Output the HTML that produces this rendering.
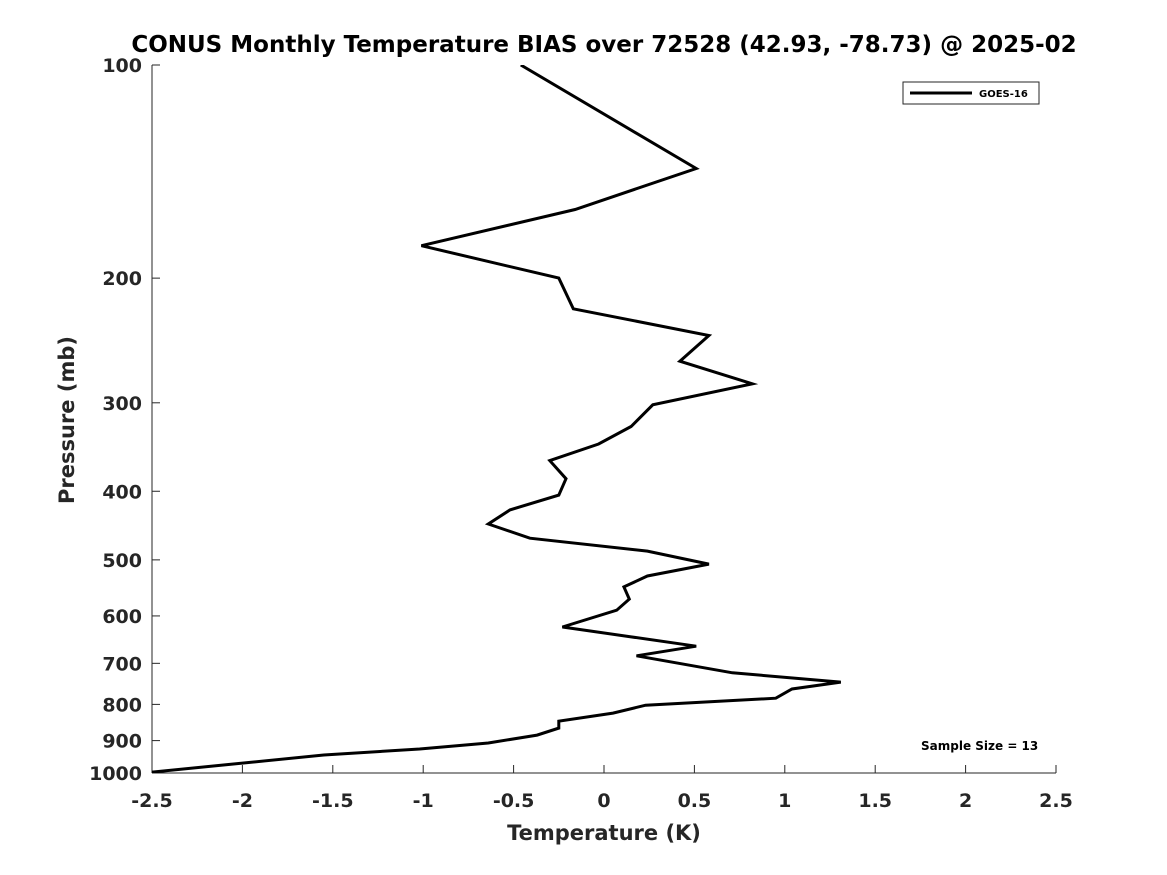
<!DOCTYPE html>
<html><head><meta charset="utf-8"><style>
html,body{margin:0;padding:0;background:#fff;}
svg{display:block;font-family:"DejaVu Sans","Liberation Sans",sans-serif;}
</style></head><body>
<svg id="chart" width="1167" height="875" viewBox="0 0 1167 875">
<rect width="1167" height="875" fill="#fff"/>
<text x="604" y="52" text-anchor="middle" font-size="23" font-weight="bold" fill="#000">CONUS Monthly Temperature BIAS over 72528 (42.93, -78.73) @ 2025-02</text>
<g id="axes"></g>
<g id="series"></g>
<text x="604" y="840" text-anchor="middle" font-size="21" font-weight="bold" fill="#262626">Temperature (K)</text>
<text transform="translate(74,420) rotate(-90)" text-anchor="middle" font-size="21" font-weight="bold" fill="#262626">Pressure (mb)</text>
<g>
<rect x="903" y="82" width="136" height="22" fill="#fff" stroke="#262626" stroke-width="1"/>
<line x1="910" y1="93" x2="972" y2="93" stroke="#000" stroke-width="3"/>
<text x="979" y="97" font-size="10" font-weight="bold" fill="#000">GOES-16</text>
</g>
<text x="921" y="750" font-size="12" font-weight="bold" fill="#000">Sample Size = 13</text>
</svg>
<script>
const pressures = [100,140,160,180,200,221,241,262,282,302,324,343,362,384,405,425,445,466,486,507,527,546,568,589,622,662,683,722,744,761,784,802,823,845,864,884,907,925,943,1000];
const temps = [-0.46,0.51,-0.16,-1.01,-0.25,-0.17,0.58,0.42,0.82,0.27,0.15,-0.03,-0.30,-0.21,-0.25,-0.52,-0.64,-0.41,0.24,0.58,0.24,0.11,0.14,0.07,-0.23,0.51,0.18,0.71,1.31,1.04,0.95,0.23,0.05,-0.25,-0.25,-0.37,-0.64,-1.02,-1.55,-2.55];
const xTicks = [-2.5,-2,-1.5,-1,-0.5,0,0.5,1,1.5,2,2.5];
const xTickLabels = ["-2.5","-2","-1.5","-1","-0.5","0","0.5","1","1.5","2","2.5"];
const yTicks = [100,200,300,400,500,600,700,800,900,1000];
const yTickLabels = ["100","200","300","400","500","600","700","800","900","1000"];

const NS="http://www.w3.org/2000/svg";
const L=152,R=1056,T=65,B=773;
const xMin=-2.5,xMax=2.5,pMin=100,pMax=1000;
function xs(v){return L+(v-xMin)/(xMax-xMin)*(R-L);}
function ys(p){return T+(Math.log10(p)-Math.log10(pMin))/(Math.log10(pMax)-Math.log10(pMin))*(B-T);}
function mk(tag,attrs,parent){const e=document.createElementNS(NS,tag);for(const k in attrs)e.setAttribute(k,attrs[k]);parent.appendChild(e);return e;}
const svg=document.getElementById('chart');
const axes=document.getElementById('axes');
const series=document.getElementById('series');

const defs=mk('defs',{},svg);
const cp=mk('clipPath',{id:'plotclip'},defs);
mk('rect',{x:L,y:T,width:R-L,height:B-T},cp);

xTicks.forEach((v,i)=>{
  const x=xs(v);
  const t=mk('line',{x1:x,y1:B,x2:x,y2:B-8,stroke:'#262626','stroke-width':1},axes);
  
  
  const lb=mk('text',{x:x,y:B+34,'text-anchor':'middle','font-size':19,'font-weight':'bold',fill:'#262626'},axes);
  lb.textContent=xTickLabels[i];
  
  
});
yTicks.forEach((p,i)=>{
  const y=ys(p);
  const t=mk('line',{x1:L,y1:y,x2:L+8,y2:y,stroke:'#262626','stroke-width':1},axes);
  
  
  const lb=mk('text',{x:L-10,y:y+7,'text-anchor':'end','font-size':19,'font-weight':'bold',fill:'#262626'},axes);
  lb.textContent=yTickLabels[i];
  
  
});
const xa=mk('line',{x1:L,y1:B,x2:R,y2:B,stroke:'#262626','stroke-width':1},axes);


const ya=mk('line',{x1:L,y1:T,x2:L,y2:B,stroke:'#262626','stroke-width':1},axes);



const pts=pressures.map((p,i)=>xs(temps[i]).toFixed(1)+','+ys(p).toFixed(1)).join(' ');
const pl=mk('polyline',{points:pts,fill:'none',stroke:'#000','stroke-width':3,'stroke-linejoin':'miter','clip-path':'url(#plotclip)'},series);


</script>
</body></html>
